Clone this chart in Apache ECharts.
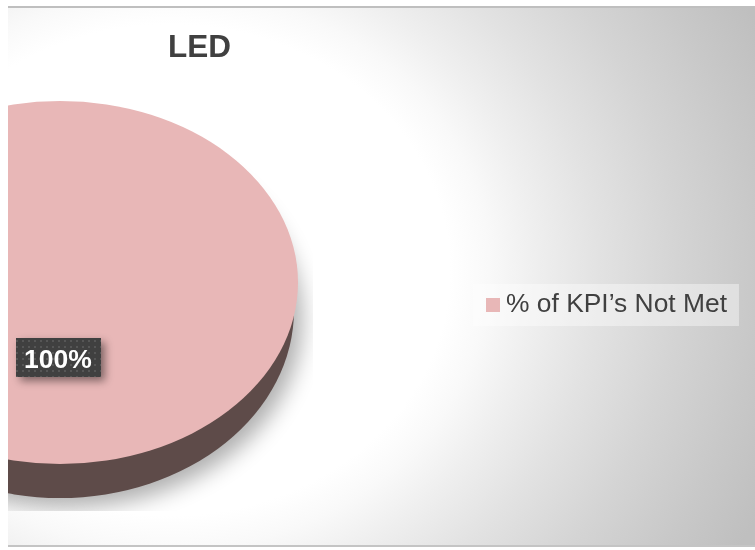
<!DOCTYPE html>
<html>
<head>
<meta charset="utf-8">
<script src="https://cdn.jsdelivr.net/npm/echarts@6/dist/echarts.min.js"></script>
<style>
html, body { margin: 0; padding: 0; background: #fff; overflow: hidden; }
#wrap {
    position: absolute; left: 8px; top: 6px; width: 747px; height: 537px;
    border-top: 2px solid #bfbfbf; border-bottom: 2px solid #c4c4c4;
    background: radial-gradient(ellipse 651px 571px at 162px 262px, #fff 0, #fff 43%, #f9f9f9 49%, #efefef 56%, #e2e2e2 66%, #d4d4d4 78%, #c8c8c8 90%, #bfbfbf 100%);
}
#main { width: 747px; height: 537px; }
</style>
</head>
<body>
<div id="wrap"><div id="main"></div></div>
<script>
var titleText = 'LED'
var categories = ['% of KPI’s Not Met']
var values = [100]

// small dotted tile for the data label box
var tile = document.createElement('canvas')
tile.width = 6
tile.height = 6
var ctx = tile.getContext('2d')
ctx.fillStyle = '#404040'
ctx.fillRect(0, 0, 6, 6)
ctx.fillStyle = '#565656'
ctx.fillRect(2, 2, 2, 2)

var total = values.reduce(function (a, b) { return a + b }, 0)

function renderPie(params, api) {
    var v = api.value(0)
    var start = -Math.PI / 2
    var end = start + v / total * Math.PI * 2
    return {
        type: 'group',
        children: [{
            // side wall with soft shadow, cut off at the plot area
            type: 'group',
            clipPath: { type: 'rect', shape: { x: 0, y: 0, width: 305, height: 503 } },
            children: [{
                type: 'sector',
                x: 52, y: 302, scaleY: 188 / 234,
                shape: { cx: 0, cy: 0, r: 234, r0: 0, startAngle: start, endAngle: end, clockwise: true },
                style: { fill: '#5e4b49', shadowBlur: 22, shadowColor: 'rgba(0,0,0,0.32)', shadowOffsetX: 8, shadowOffsetY: 9 }
            }]
        }, {
            type: 'sector',
            x: 52, y: 274.5, scaleY: 181.5 / 238,
            shape: { cx: 0, cy: 0, r: 238, r0: 0, startAngle: start, endAngle: end, clockwise: true },
            style: { fill: '#e8b7b7' }
        }, {
            type: 'rect',
            shape: { x: 8, y: 330, width: 85, height: 39 },
            style: {
                fill: { image: tile, repeat: 'repeat' },
                shadowBlur: 8, shadowColor: 'rgba(0,0,0,0.45)', shadowOffsetX: 4, shadowOffsetY: 4
            }
        }, {
            type: 'text',
            style: {
                x: 50, y: 352.5, text: v + '%', fill: '#fff', align: 'center', verticalAlign: 'middle',
                font: 'bold 26.5px "Liberation Sans", Arial, sans-serif'
            }
        }]
    }
}

var mychart = echarts.init(document.getElementById('main'))
mychart.setOption({
    animation: false,
    backgroundColor: 'transparent',
    title: {
        text: titleText,
        left: 160,
        top: 24,
        padding: 0,
        textStyle: { color: '#404040', fontSize: 31.5, fontWeight: 'bold', fontFamily: '"Liberation Sans", Arial, sans-serif' }
    },
    legend: {
        data: categories,
        left: 465,
        top: 276,
        padding: [8, 12, 8, 13],
        backgroundColor: 'rgba(255,255,255,0.4)',
        icon: 'rect',
        itemWidth: 14,
        itemHeight: 14,
        itemGap: 0,
        textStyle: { color: '#404040', fontSize: 26.4, padding: [4, 0, 0, 1], fontFamily: '"Liberation Sans", Arial, sans-serif' }
    },
    series: [{
        name: categories[0],
        type: 'custom',
        coordinateSystem: 'none',
        silent: true,
        itemStyle: { color: '#e8b7b7' },
        data: values,
        renderItem: renderPie
    }]
})
</script>
</body>
</html>
